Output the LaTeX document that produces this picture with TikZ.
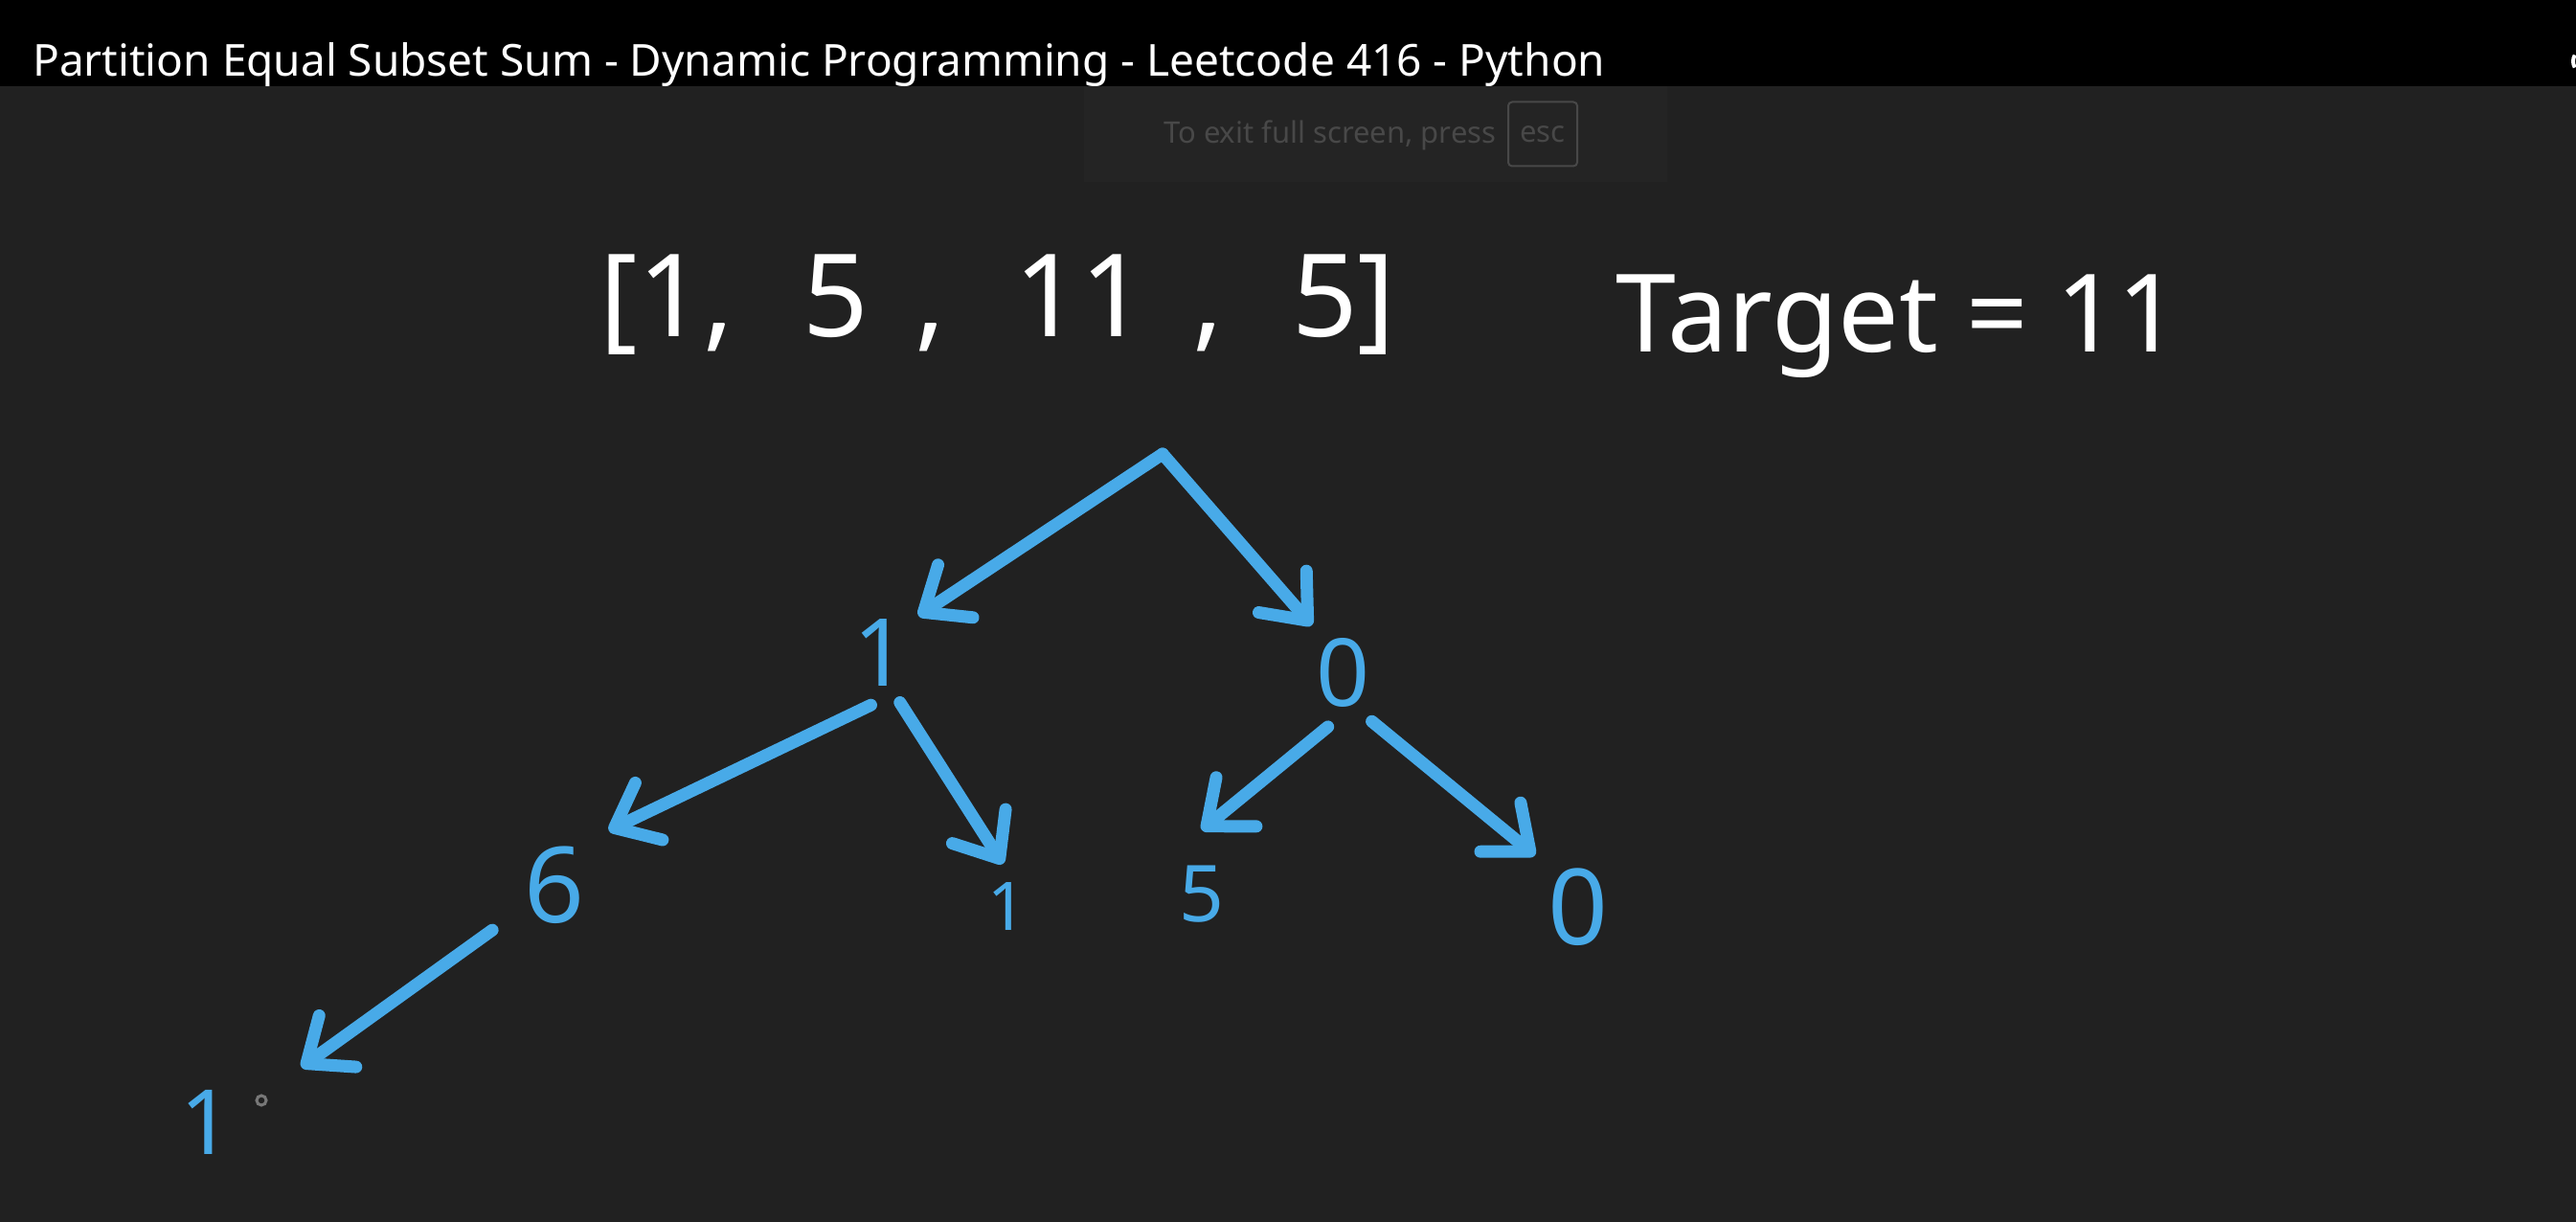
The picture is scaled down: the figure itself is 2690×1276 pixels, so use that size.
\documentclass[tikz,border=0pt]{standalone}
\usepackage{fontspec}
\setmainfont{Noto Sans}
\usetikzlibrary{arrows.meta}
\definecolor{board}{RGB}{33,33,33}
\definecolor{noticebg}{RGB}{36,36,36}
\definecolor{noticefg}{RGB}{72,72,72}
\definecolor{chalkblue}{RGB}{72,170,232}
\begin{document}
\begin{tikzpicture}[x=1pt,y=-1pt,
  num/.style={circle,inner sep=0pt,minimum size=110pt,text=chalkblue,font=\fontsize{#1}{#1}\selectfont},
  branch/.style={draw=chalkblue,line width=13pt,line cap=round,line join=round,-{Straight Barb[length=40pt,width=66pt,round]}},
  chalk/.style={text=white,inner sep=0pt}]
  \useasboundingbox (0,0) rectangle (2690,1276);
  % screen and title bar
  \fill[board] (0,0) rectangle (2690,1276);
  \fill[black] (0,0) rectangle (2690,90);
  \node[anchor=base west,text=white,inner sep=0pt,font=\fontsize{46}{46}\selectfont] (title) at (34,80) {Partition Equal Subset Sum - Dynamic Programming - Leetcode 416 - Python};
  % edge of the next glyph, cut by the screen
  \draw[white,line width=4pt] (2700,64) ++(150:13) arc[start angle=150,end angle=210,radius=13];

  % full screen notice
  \fill[noticebg] (1132,90) rectangle (1741,190);
  \node[anchor=base west,text=noticefg,inner sep=0pt,font=\fontsize{31}{31}\selectfont] (exitmsg) at (1215,150) {To exit full screen, press};
  \node[draw=noticefg,line width=2pt,rounded corners=4pt,minimum width=72pt,minimum height=67pt,inner sep=0pt,text=noticefg,font=\fontsize{31}{31}\selectfont] (esckey) at (1611,140) {esc};

  % array and target
  \node[chalk,font=\fontsize{120}{120}\selectfont] (nums) at (1042,318) {[1,\hspace{.6em}5\hspace{.4em},\hspace{.6em}11\hspace{.4em},\hspace{.6em}5]};
  \node[chalk,anchor=base west,font=\fontsize{113}{113}\selectfont] (target) at (1687,367) {Target = 11};

  % recursion tree
  \coordinate (top) at (1214,474);
  \node[num=98] (one) at (920,682) {1};
  \node[num=98,minimum size=118pt] (zero) at (1403,702) {0};
  \node[num=110,minimum size=160pt] (six) at (579,924) {6};
  \node[num=70,minimum size=90pt] (oneR) at (1052,947) {1};
  \node[num=82,minimum size=134pt] (five) at (1255,934) {5};
  \node[num=110,minimum size=140pt] (zeroR) at (1648,947) {0};
  \node[num=94,minimum size=230pt] (oneL) at (215,1172) {1};

  \draw[branch] (top) -- (one.45);
  \draw[branch] (top) -- (zero.124);
  \draw[branch] (one.259) -- (six.45);
  \draw[branch] (one.291) -- (oneR.96);
  \draw[branch] (zero.254) -- (five.90);
  \draw[branch] (zero.300) -- (zeroR.130);
  \draw[branch] (six.216) -- (oneL.30);

  % pen cursor
  \draw[draw={rgb,255:red,120;green,120;blue,120},line width=3pt] (273,1149) circle (5);
\end{tikzpicture}
\end{document}
